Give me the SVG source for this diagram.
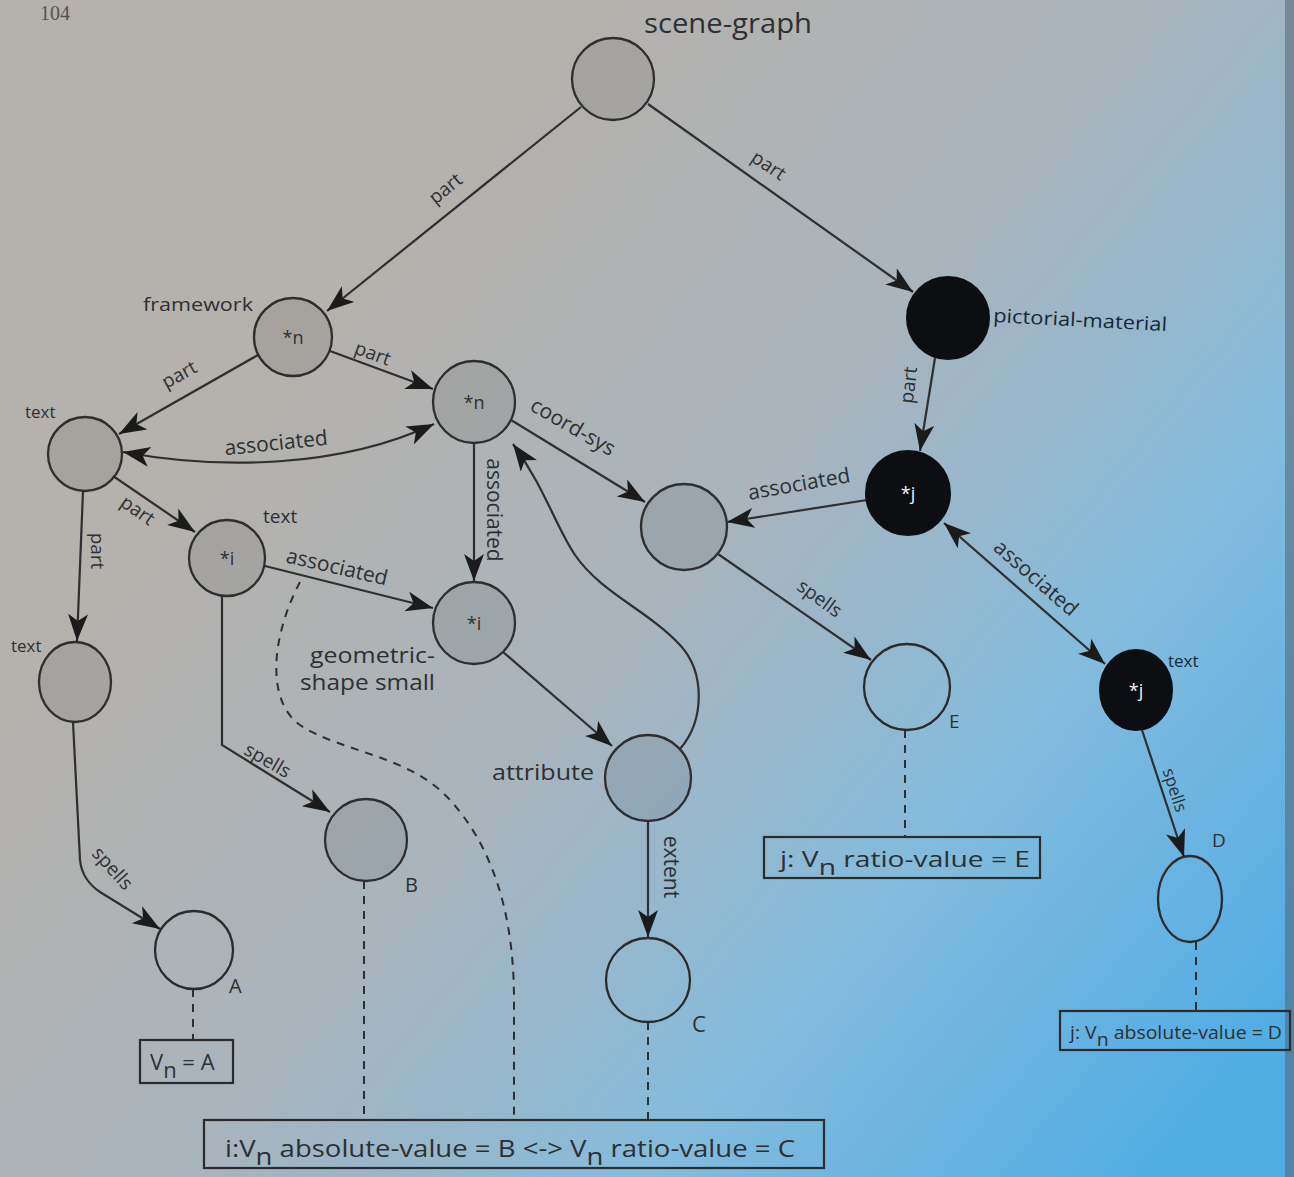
<svg xmlns="http://www.w3.org/2000/svg" width="1294" height="1177" viewBox="0 0 1294 1177">
<defs>
<linearGradient id="bg" gradientUnits="userSpaceOnUse" x1="380" y1="230" x2="1294" y2="1000">
<stop offset="0" stop-color="#b5b1ac"/>
<stop offset="0.38" stop-color="#a9b4bc"/>
<stop offset="0.68" stop-color="#84bbdd"/>
<stop offset="1" stop-color="#52ade4"/>
</linearGradient>
<marker id="ah" markerUnits="userSpaceOnUse" markerWidth="30" markerHeight="22" refX="27" refY="10" orient="auto-start-reverse">
<path d="M0,0 L27,10 L0,20 L7,10 Z" fill="#1b1b1b"/>
</marker>
<style>
.n{fill:#000;fill-opacity:0.08;stroke:#2e2e2e;stroke-width:2.3}
.w{fill:none;stroke:#2b2b2b;stroke-width:2.3}
.b{fill:#0c0e11;stroke:#0c0e11;stroke-width:2}
.e{fill:none;stroke:#2f2f2f;stroke-width:2.2}
.d{fill:none;stroke:#2f2f2f;stroke-width:2;stroke-dasharray:8 7}
.bx{fill:none;stroke:#2b2b2b;stroke-width:2.2}
text{font-family:"Open Sans","Liberation Sans",sans-serif;fill:#2d3033}
.lb{font-size:19px}
.in{font-size:18px;text-anchor:middle}
.wi{font-size:18px;text-anchor:middle;fill:#f2f2f2}
.el{font-size:19px;text-anchor:middle}
</style>
</defs>
<rect x="0" y="0" width="1294" height="1177" fill="url(#bg)"/>
<rect x="1285" y="0" width="9" height="1177" fill="#4d5c69" opacity="0.5"/>
<text x="40" y="20" style="font-family:'Liberation Serif',serif;font-size:20px;fill:#55524e">104</text>

<g id="connectors">
<line class="e" x1="581" y1="107" x2="327" y2="311" marker-end="url(#ah)"/>
<line class="e" x1="648" y1="104" x2="913" y2="292" marker-end="url(#ah)"/>
<line class="e" x1="258" y1="355" x2="119" y2="434" marker-end="url(#ah)"/>
<line class="e" x1="330" y1="351" x2="433" y2="389" marker-end="url(#ah)"/>
<path class="e" d="M123,452 C220,470 340,468 434,424" marker-start="url(#ah)" marker-end="url(#ah)"/>
<line class="e" x1="113" y1="476" x2="195" y2="532" marker-end="url(#ah)"/>
<line class="e" x1="83" y1="491" x2="77" y2="641" marker-end="url(#ah)"/>
<line class="e" x1="265" y1="566" x2="433" y2="608" marker-end="url(#ah)"/>
<line class="e" x1="511" y1="420" x2="645" y2="502" marker-end="url(#ah)"/>
<line class="e" x1="474" y1="443" x2="474" y2="581" marker-end="url(#ah)"/>
<line class="e" x1="503" y1="652" x2="612" y2="746" marker-end="url(#ah)"/>
<path class="e" d="M680,749 C705,720 705,672 680,645 C650,612 600,592 575,555 C555,525 545,488 513,444" marker-end="url(#ah)"/>
<line class="e" x1="648" y1="821" x2="648" y2="937" marker-end="url(#ah)"/>
<line class="e" x1="867" y1="500" x2="727" y2="522" marker-end="url(#ah)"/>
<line class="e" x1="935" y1="358" x2="920" y2="451" marker-end="url(#ah)"/>
<line class="e" x1="944" y1="523" x2="1105" y2="664" marker-start="url(#ah)" marker-end="url(#ah)"/>
<line class="e" x1="718" y1="554" x2="871" y2="660" marker-end="url(#ah)"/>
<line class="e" x1="1142" y1="730" x2="1184" y2="857" marker-end="url(#ah)"/>
<path class="e" d="M222,596 L222,745 L330,812" marker-end="url(#ah)"/>
<path class="e" d="M73,722 L80,860 Q82,880 100,892 L160,929" marker-end="url(#ah)"/>
<line class="d" x1="193" y1="989" x2="193" y2="1040"/>
<line class="d" x1="364" y1="881" x2="364" y2="1120"/>
<path class="d" d="M300,582 C272,635 265,700 300,725 C340,752 410,755 450,800 C500,855 514,930 514,1000 L514,1120"/>
<line class="d" x1="648" y1="1022" x2="648" y2="1120"/>
<line class="d" x1="905" y1="730" x2="905" y2="837"/>
<line class="d" x1="1196" y1="942" x2="1196" y2="1011"/>
</g>

<g id="edge-labels">
<text class="el" x="445" y="195" transform="rotate(-39 445 188)">part</text>
<text class="el" x="769" y="172" transform="rotate(34 769 165)">part</text>
<text class="el" x="179" y="381" transform="rotate(-29 179 374)">part</text>
<text class="el" x="373" y="360" transform="rotate(20 373 353)">part</text>
<text class="el" x="276" y="450" transform="rotate(-6 276 443)" style="font-size:21px">associated</text>
<text class="el" x="138" y="517" transform="rotate(35 138 510)">part</text>
<text class="el" x="98" y="558" transform="rotate(90 98 551)">part</text>
<text class="el" x="337" y="574" transform="rotate(13 337 567)" style="font-size:21px">associated</text>
<text class="el" x="573" y="434" transform="rotate(30 573 427)" style="font-size:21px">coord-sys</text>
<text class="el" x="494" y="517" transform="rotate(90 494 510)" style="font-size:21px">associated</text>
<text class="el" x="799" y="491" transform="rotate(-10 799 484)" style="font-size:21px">associated</text>
<text class="el" x="908" y="392" transform="rotate(-83 908 385)">part</text>
<text class="el" x="1036" y="585" transform="rotate(41 1036 578)" style="font-size:21px">associated</text>
<text class="el" x="820" y="605" transform="rotate(36 820 598)">spells</text>
<text class="el" x="1175" y="796" transform="rotate(72 1175 790)" style="font-size:17px">spells</text>
<text class="el" x="268" y="767" transform="rotate(30 268 760)">spells</text>
<text class="el" x="113" y="875" transform="rotate(48 113 868)">spells</text>
<text class="el" x="671" y="874" transform="rotate(90 671 867)" style="font-size:21px">extent</text>
</g>

<g id="scene-graph">
<circle class="n" cx="613" cy="79" r="41"/>
<text x="644" y="33" style="font-size:27px" textLength="168" lengthAdjust="spacingAndGlyphs">scene-graph</text>
</g>
<g id="framework">
<circle class="n" cx="293" cy="337" r="39"/>
<text class="in" x="293" y="344">*n</text>
<text class="lb" x="143" y="311" textLength="110" lengthAdjust="spacingAndGlyphs">framework</text>
</g>
<g id="text-1">
<circle class="n" cx="85" cy="454" r="37"/>
<text x="25" y="418" style="font-size:17px">text</text>
</g>
<g id="coord-node-n">
<circle class="n" cx="474" cy="402" r="41"/>
<text class="in" x="474" y="409">*n</text>
</g>
<g id="text-i">
<circle class="n" cx="227" cy="558" r="38"/>
<text class="in" x="227" y="565">*i</text>
<text x="263" y="523" style="font-size:19px">text</text>
</g>
<g id="text-2">
<ellipse class="n" cx="75" cy="682" rx="36" ry="40"/>
<text x="11" y="652" style="font-size:17px">text</text>
</g>
<g id="geometric-shape">
<circle class="n" cx="474" cy="623" r="41"/>
<text class="in" x="474" y="630">*i</text>
<text x="310" y="663" style="font-size:22px" textLength="125" lengthAdjust="spacingAndGlyphs">geometric-</text>
<text x="300" y="690" style="font-size:22px" textLength="135" lengthAdjust="spacingAndGlyphs">shape small</text>
</g>
<g id="coord-node">
<circle class="n" cx="684" cy="527" r="43"/>
</g>
<g id="attribute">
<circle class="n" cx="648" cy="778" r="43"/>
<text x="492" y="780" style="font-size:22px" textLength="102" lengthAdjust="spacingAndGlyphs">attribute</text>
</g>
<g id="pictorial-material">
<circle class="b" cx="948" cy="318" r="41"/>
<text x="993" y="322" style="font-size:19px;fill:#14283a" transform="rotate(3 993 322)" textLength="174" lengthAdjust="spacingAndGlyphs">pictorial-material</text>
</g>
<g id="node-j1">
<circle class="b" cx="908" cy="493" r="42"/>
<text class="wi" x="908" y="500">*j</text>
</g>
<g id="node-j2">
<ellipse class="b" cx="1136" cy="690" rx="36" ry="40"/>
<text class="wi" x="1136" y="697">*j</text>
<text x="1168" y="667" style="font-size:17px;fill:#14283a">text</text>
</g>
<g id="node-E">
<circle class="w" cx="907" cy="687" r="43"/>
<text x="949" y="728" style="font-size:19px">E</text>
</g>
<g id="node-D">
<ellipse class="w" cx="1190" cy="899" rx="32" ry="43"/>
<text x="1212" y="847" style="font-size:19px">D</text>
</g>
<g id="node-C">
<circle class="w" cx="648" cy="980" r="42"/>
<text x="692" y="1032" style="font-size:22px">C</text>
</g>
<g id="node-A">
<circle class="w" cx="194" cy="950" r="39"/>
<text x="229" y="993" style="font-size:20px">A</text>
</g>
<g id="node-B">
<circle class="n" cx="366" cy="840" r="41"/>
<text x="405" y="892" style="font-size:20px">B</text>
</g>
<g id="box-A">
<rect class="bx" x="140" y="1040" width="93" height="43"/>
<text x="150" y="1070" style="font-size:22px">V<tspan dy="8">n</tspan><tspan dy="-8"> = A</tspan></text>
</g>
<g id="box-BC">
<rect class="bx" x="204" y="1120" width="620" height="48"/>
<text x="225" y="1157" style="font-size:24px" textLength="570" lengthAdjust="spacingAndGlyphs">i:V<tspan dy="8">n</tspan><tspan dy="-8"> absolute-value = B &lt;-&gt; V</tspan><tspan dy="8">n</tspan><tspan dy="-8"> ratio-value = C</tspan></text>
</g>
<g id="box-E">
<rect class="bx" x="764" y="837" width="276" height="41"/>
<text x="780" y="867" style="font-size:22px" textLength="250" lengthAdjust="spacingAndGlyphs">j: V<tspan dy="8">n</tspan><tspan dy="-8"> ratio-value = E</tspan></text>
</g>
<g id="box-D">
<rect class="bx" x="1060" y="1011" width="230" height="39"/>
<text x="1070" y="1039" style="font-size:18px" textLength="212" lengthAdjust="spacingAndGlyphs">j: V<tspan dy="7">n</tspan><tspan dy="-7"> absolute-value = D</tspan></text>
</g>
</svg>
